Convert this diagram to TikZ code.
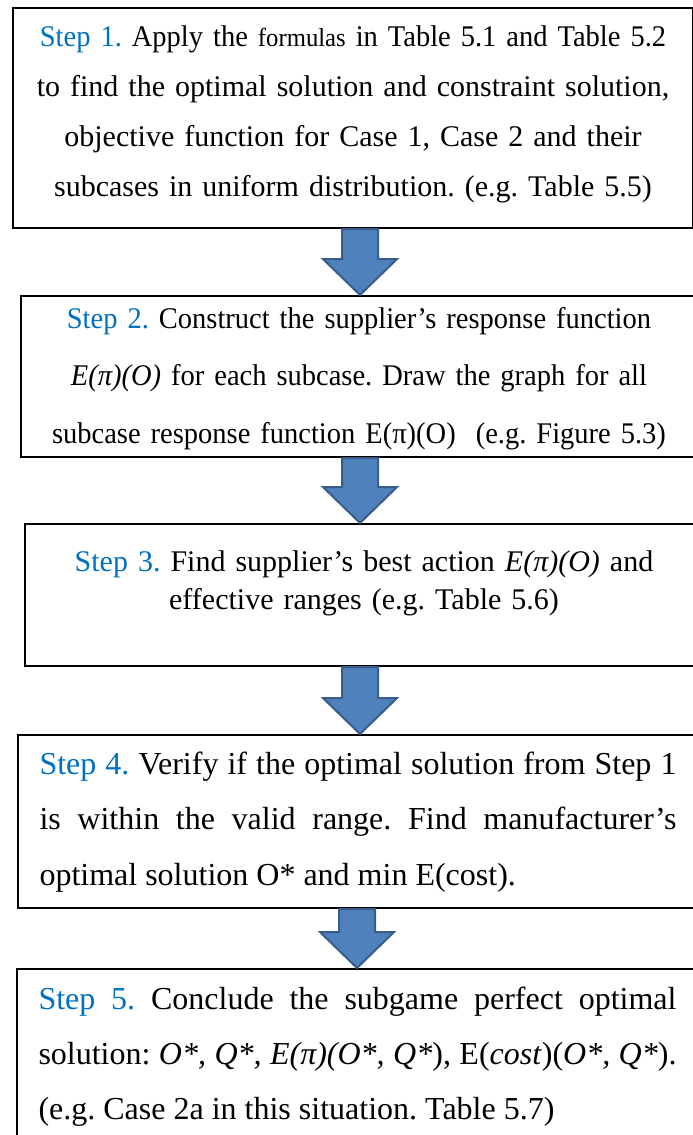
\documentclass[tikz,border=0pt]{standalone}
\usepackage{fontspec}
\setmainfont{Liberation Serif}
\newfontfamily\narrowserif[FakeStretch=0.95]{Liberation Serif}
\usetikzlibrary{calc}

\definecolor{stepblue}{RGB}{0,112,192}
\definecolor{arrowfill}{RGB}{79,129,189}
\definecolor{arrowline}{RGB}{56,93,138}

\newcommand{\steplabel}[1]{{\color{stepblue}Step #1.}}
\frenchspacing

\begin{document}
\begin{tikzpicture}[x=1pt,y=-1pt,
  stepbox/.style={draw=black, line width=2pt, rectangle, anchor=north west,
    inner xsep=0pt, inner ysep=0pt},
  smalltext/.style={font=\fontsize{30}{50}\selectfont\frenchspacing},
  largetext/.style={font=\fontsize{32}{55.5}\selectfont\frenchspacing},
  blockarrow/.style={draw=arrowline, fill=arrowfill, line width=2pt, line join=miter,
    to path={let \p1=(\tikztostart), \p2=(\tikztotarget) in
      (\x1-18pt,\y1) -- (\x1+18pt,\y1) -- (\x1+18pt,\y2+36pt) -- (\x1+37pt,\y2+36pt)
      -- (\x1,\y2) -- (\x1-37pt,\y2+36pt) -- (\x1-18pt,\y2+36pt) -- cycle}}]

% page frame
\path[use as bounding box] (0,0) rectangle (693,1135);
\fill[white] (0,0) rectangle (693,1135);
\clip (0,0) rectangle (693,1135);

% arrow axes
\coordinate (axis) at (360,0);
\coordinate (axislow) at (357,0);

% step boxes
\node[stepbox, smalltext, align=center, text width=680, minimum width=680,
      text height=38, text depth=182] (b1) at (12,7)
  {{\narrowserif\steplabel{1} Apply the {\fontsize{26}{50}\selectfont formulas} in Table 5.1 and Table 5.2}\\
   to find the optimal solution and constraint solution,\\
   objective function for Case 1, Case 2 and their\\
   subcases in uniform distribution. (e.g. Table 5.5)};

\node[stepbox, font=\fontsize{30}{57.5}\narrowserif\selectfont\frenchspacing, align=center,
      text width=676, minimum width=676, text height=32, text depth=129] (b2) at (20,295)
  {\steplabel{2} Construct the supplier’s response function\\
   \textit{E(π)(O)} for each subcase. Draw the graph for all\\
   subcase response function E(π)(O)\ \ (e.g. Figure 5.3)};

\node[stepbox, font=\fontsize{30}{38}\selectfont\frenchspacing, align=center,
      text width=678, minimum width=678, text height=47, text depth=95] (b3) at (24,523)
  {\steplabel{3} Find supplier’s best action \textit{E(π)(O)} and\\
   effective ranges (e.g. Table 5.6)};

\node[stepbox, largetext, align=justify,
      text width=637, minimum width=680, text height=39, text depth=134] (b4) at (17,734)
  {\steplabel{4} Verify if the optimal solution from Step 1\linebreak
   is within the valid range. Find manufacturer’s\linebreak
   optimal solution O* and min E(cost).};

\node[stepbox, font=\fontsize{32}{55}\selectfont\frenchspacing, align=justify,
      text width=638, minimum width=681, text height=40, text depth=142] (b5) at (16,968)
  {\steplabel{5} Conclude the subgame perfect optimal\linebreak
   solution: \textit{O*, Q*, E(π)(O*, Q*}), E(\textit{cost})(\textit{O*, Q*}).\linebreak
   (e.g. Case 2a in this situation. Table 5.7)};

% block arrows between the steps
\draw[blockarrow] (b1.south -| axis) to (b2.north -| axis);
\draw[blockarrow] (b2.south -| axis) to (b3.north -| axis);
\draw[blockarrow] (b3.south -| axis) to (b4.north -| axis);
\draw[blockarrow] (b4.south -| axislow) to (b5.north -| axislow);
\end{tikzpicture}
\end{document}
